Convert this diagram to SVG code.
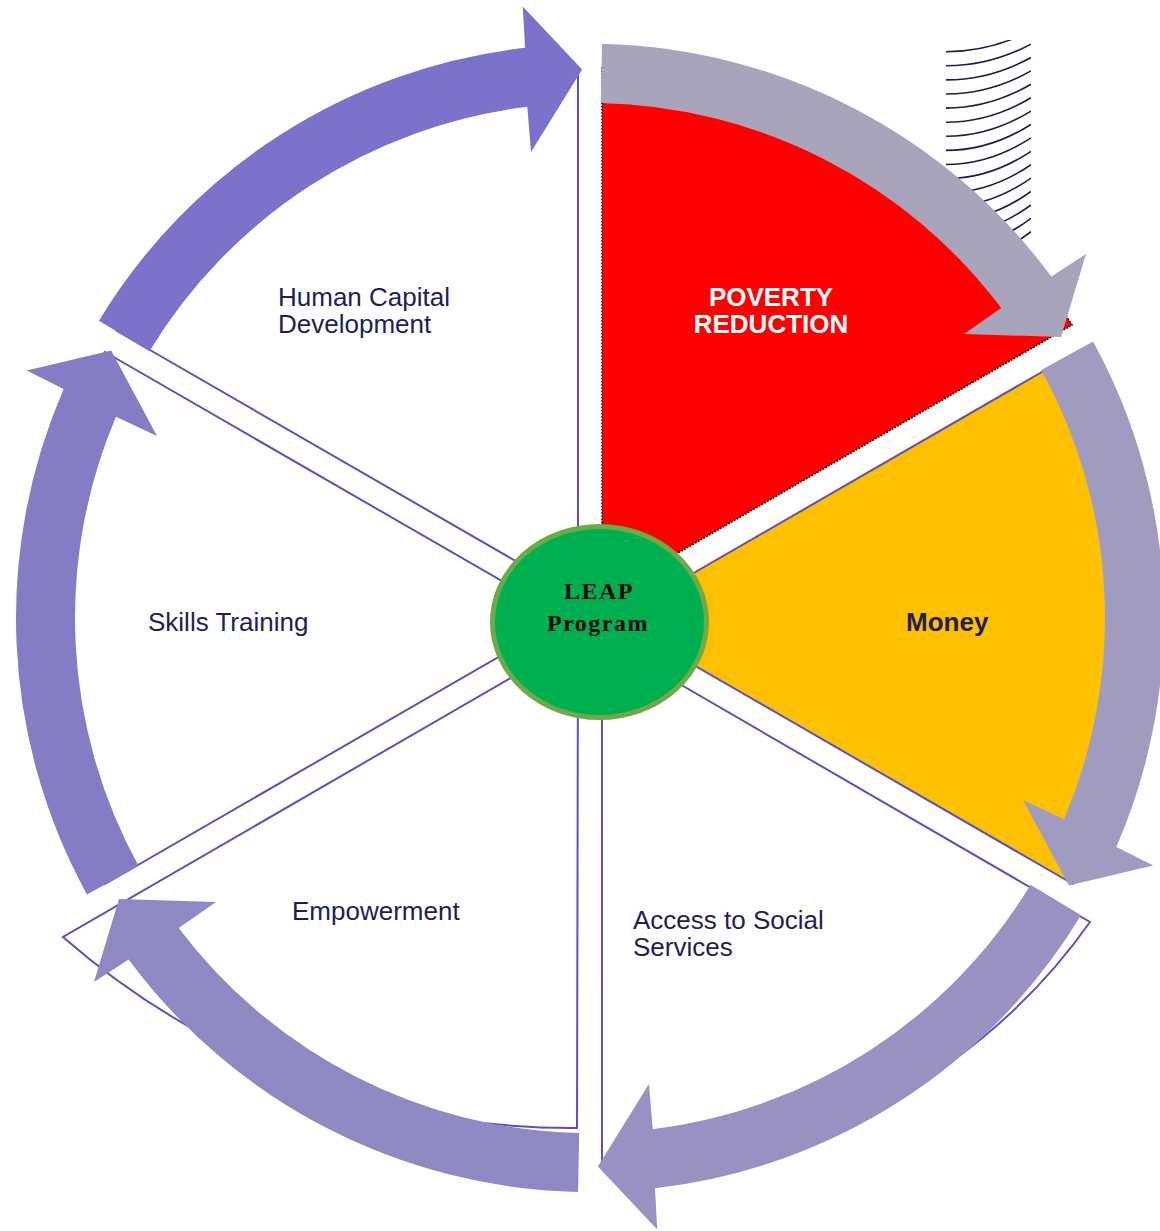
<svg xmlns="http://www.w3.org/2000/svg" width="1160" height="1231" viewBox="0 0 1160 1231">
<style>
.sec{fill:#ffffff;stroke:#5A50C4;stroke-width:2}
.lbl{font-family:"Liberation Sans",Arial,sans-serif;font-size:26px;fill:#221D58}
.bold{font-weight:bold}
.hatch path{fill:none;stroke:#1E1A50;stroke-width:1.6}
.leap{font-family:"Liberation Serif","Times New Roman",serif;font-size:24px;font-weight:bold;fill:#0A0A0A;letter-spacing:1.5px}
</style>
<defs>
<path id="arr" d="M 602.0 44.1 A 574 574 0 0 1 1051.4 276.6 L 1086 254 L 1061 337 L 964 334 L 1001.3 308.1 A 515 515 0 0 0 600.8 103.1 Z"/>
<clipPath id="hc"><path d="M940,40 H1031 V253.7 A572,572 0 0 0 940,165.6 Z"/></clipPath>
</defs>
<rect width="1160" height="1231" fill="#ffffff"/>

<g id="node-poverty">
<path d="M 602 597 L 602 68 A 540 540 0 0 1 1072 325 Z" fill="#FF0000" stroke="#000000" stroke-width="1.6" stroke-dasharray="1.6 1.6"/>
<text class="lbl bold" x="771" y="306" text-anchor="middle" fill="#ffffff" style="fill:#ffffff">POVERTY</text>
<text class="lbl bold" x="771" y="333" text-anchor="middle" style="fill:#ffffff">REDUCTION</text>
</g>

<g id="node-money">
<path d="M 614 619 L 1073 354 A 532 532 0 0 1 1073 884 Z" fill="#FFC000" stroke="#5A50C4" stroke-width="2"/>
<text class="lbl bold" x="906" y="631">Money</text>
</g>

<g id="node-access">
<path class="sec" d="M 602 639 L 1090 922 A 582 582 0 0 1 602 1169 Z"/>
<text class="lbl" x="633" y="929">Access to Social</text>
<text class="lbl" x="633" y="956">Services</text>
</g>

<g id="node-empowerment">
<path class="sec" d="M 578 639 L 63 937 A 773 773 0 0 0 577 1128 Z"/>
<text class="lbl" x="292" y="920">Empowerment</text>
</g>

<g id="node-skills">
<path class="sec" d="M 566 618 L 105 352 A 532 532 0 0 0 105 884 Z"/>
<text class="lbl" x="148" y="631">Skills Training</text>
</g>

<g id="node-hcd">
<path class="sec" d="M 578 597 L 578 68 A 531 531 0 0 0 117 331 Z"/>
<text class="lbl" x="278" y="306">Human Capital</text>
<text class="lbl" x="278" y="333">Development</text>
</g>

<g class="hatch" clip-path="url(#hc)">
<path d="M946,51.7 Q990,51.7 1031,30.7"/>
<path d="M946,65.8 Q990,65.8 1031,44.1"/>
<path d="M946,79.9 Q990,79.9 1031,57.5"/>
<path d="M946,94.0 Q990,94.0 1031,70.9"/>
<path d="M946,108.1 Q990,108.1 1031,84.3"/>
<path d="M946,122.2 Q990,122.2 1031,97.7"/>
<path d="M946,136.3 Q990,136.3 1031,111.1"/>
<path d="M946,150.4 Q990,150.4 1031,124.5"/>
<path d="M946,164.5 Q990,164.5 1031,137.9"/>
<path d="M946,178.6 Q990,178.6 1031,151.3"/>
<path d="M946,192.7 Q990,192.7 1031,164.7"/>
<path d="M946,206.8 Q990,206.8 1031,178.1"/>
<path d="M946,220.9 Q990,220.9 1031,191.5"/>
<path d="M946,235.0 Q990,235.0 1031,204.9"/>
<path d="M946,249.1 Q990,249.1 1031,218.3"/>
<path d="M946,263.2 Q990,263.2 1031,231.7"/>
</g>

<g id="connectors">
<use href="#arr" fill="#A7A4BC"/>
<use href="#arr" fill="#A09CC0" transform="rotate(60 590 618)"/>
<use href="#arr" fill="#9892C2" transform="rotate(120 590 618)"/>
<use href="#arr" fill="#8E88C3" transform="rotate(180 590 618)"/>
<use href="#arr" fill="#847DC6" transform="rotate(240 590 618)"/>
<use href="#arr" fill="#7B73CB" transform="rotate(300 590 618)"/>
</g>

<g id="node-leap">
<ellipse cx="599.5" cy="622" rx="107" ry="95.5" fill="#00B050" stroke="#6FAA48" stroke-width="5"/>
<text class="leap" x="599" y="599" text-anchor="middle">LEAP</text>
<text class="leap" x="598" y="631" text-anchor="middle">Program</text>
</g>
</svg>
